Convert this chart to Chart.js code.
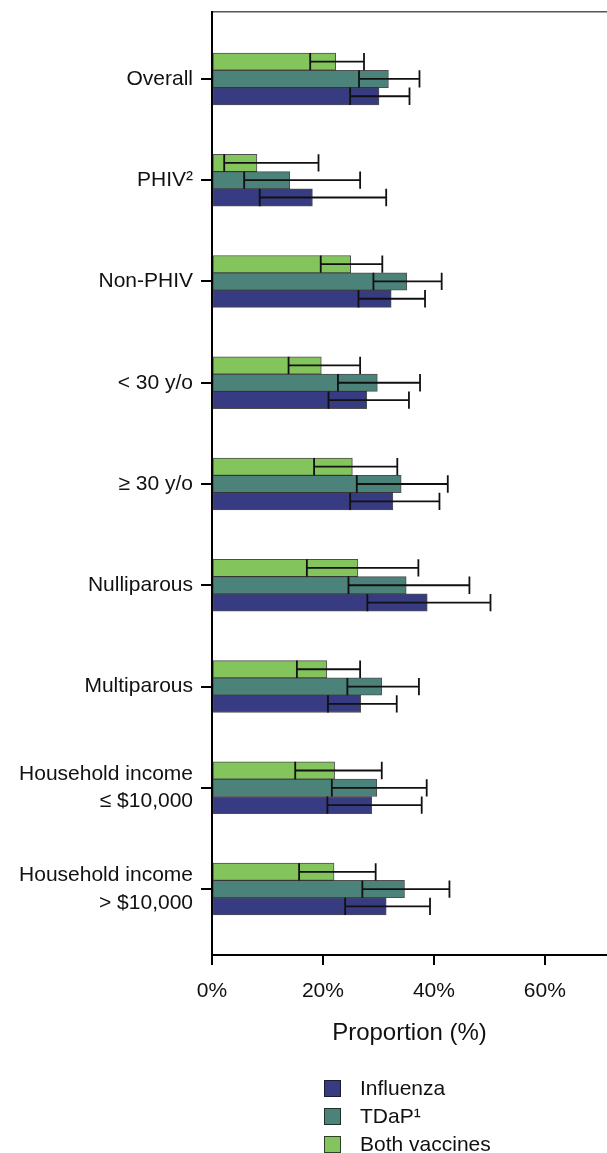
<!DOCTYPE html>
<html>
<head>
<meta charset="utf-8">
<script src="https://cdn.jsdelivr.net/npm/chart.js@4/dist/chart.umd.min.js"></script>
<style>
  html, body { margin: 0; padding: 0; background: #fff; }
  #wrap { position: relative; width: 607px; height: 1153px; font-family: 'Liberation Sans', Arial, sans-serif; }
  #chart { position: absolute; left: 0; top: 0; }
  .leg { position: absolute; left: 324px; height: 28px; display: flex; align-items: center; font-size: 21px; color: #111; }
  .leg span.box { width: 17px; height: 17px; box-sizing: border-box; border: 1px solid rgba(20,20,20,0.75); margin-right: 19px; }
</style>
</head>
<body>
<div id="wrap">
  <canvas id="chart" width="607" height="1153"></canvas>
  <div id="legend"></div>
</div>
<script>
// ===== data =====
const categories = [
    "Overall", "PHIV²", "Non-PHIV", "< 30 y/o", "≥ 30 y/o",
    "Nulliparous", "Multiparous",
    ["Household income", "≤ $10,000"],
    ["Household income", "> $10,000"]
];

const influenza   = [30.1, 18.1, 32.3, 27.9, 32.6, 38.8, 26.8, 28.8, 31.4];
const influenzaLo = [24.9,  8.6, 26.4, 21.0, 24.9, 28.0, 20.9, 20.8, 24.0];
const influenzaHi = [35.6, 31.4, 38.4, 35.5, 41.0, 50.2, 33.3, 37.8, 39.3];

const tdap   = [31.8, 14.0, 35.1, 29.8, 34.1, 35.0, 30.6, 29.7, 34.7];
const tdapLo = [26.5,  5.8, 29.1, 22.7, 26.1, 24.6, 24.4, 21.6, 27.1];
const tdapHi = [37.4, 26.7, 41.4, 37.5, 42.5, 46.4, 37.3, 38.7, 42.8];

const both   = [22.3,  8.1, 25.0, 19.7, 25.3, 26.3, 20.7, 22.1, 22.0];
const bothLo = [17.7,  2.2, 19.6, 13.8, 18.4, 17.1, 15.3, 15.0, 15.7];
const bothHi = [27.4, 19.2, 30.7, 26.7, 33.4, 37.2, 26.7, 30.6, 29.5];

const xTicks = [0, 20, 40, 60];

const mauXanh = "#363b82";
const mauTeal = "#4b8279";
const mauLa   = "#84c45c";
const fontChu = "'Liberation Sans', Arial, sans-serif";

// ===== error bars (CI) =====
const errorBarPlugin = {
    id: "errorBars",
    afterDatasetsDraw(chart) {
        const ctx = chart.ctx;
        const x = chart.scales.x;
        ctx.save();
        ctx.strokeStyle = "#111";
        ctx.lineWidth = 1.8;
        chart.data.datasets.forEach((ds, i) => {
            const meta = chart.getDatasetMeta(i);
            meta.data.forEach((bar, j) => {
                const x1 = x.getPixelForValue(ds.ciLo[j]);
                const x2 = x.getPixelForValue(ds.ciHi[j]);
                const h = bar.height / 2;
                ctx.beginPath();
                ctx.moveTo(x1, bar.y); ctx.lineTo(x2, bar.y);
                ctx.moveTo(x1, bar.y - h); ctx.lineTo(x1, bar.y + h);
                ctx.moveTo(x2, bar.y - h); ctx.lineTo(x2, bar.y + h);
                ctx.stroke();
            });
        });
        ctx.restore();
    }
};

function taoDataset(label, values, lo, hi, color) {
    return {
        label: label,
        data: values,
        ciLo: lo,
        ciHi: hi,
        backgroundColor: color,
        borderColor: "rgba(20,20,20,0.75)",
        borderWidth: 1,
        borderSkipped: false,
        barThickness: 17.3
    };
}

new Chart(document.getElementById("chart"), {
    type: "bar",
    data: {
        labels: categories,
        datasets: [
            taoDataset("Both vaccines", both, bothLo, bothHi, mauLa),
            taoDataset("TDaP¹", tdap, tdapLo, tdapHi, mauTeal),
            taoDataset("Influenza", influenza, influenzaLo, influenzaHi, mauXanh)
        ]
    },
    options: {
        indexAxis: "y",
        responsive: false,
        animation: false,
        layout: { padding: { top: 4, left: 0, right: 0, bottom: 101 } },
        plugins: {
            legend: { display: false },
            tooltip: { enabled: false }
        },
        scales: {
            x: {
                type: "linear",
                min: 0,
                max: 71.2,
                border: { display: true, color: "#000", width: 2 },
                grid: { display: true, drawOnChartArea: false, drawTicks: true, tickLength: 10, color: "#000", lineWidth: 2 },
                afterBuildTicks: scale => { scale.ticks = xTicks.map(v => ({ value: v })); },
                ticks: {
                    padding: 14,
                    color: "#111",
                    font: { family: fontChu, size: 21, lineHeight: 1.2 },
                    callback: v => v + "%"
                },
                title: {
                    display: true,
                    text: "Proportion (%)",
                    color: "#111",
                    font: { family: fontChu, size: 24, lineHeight: 1.2 },
                    padding: { top: 1, bottom: 4 }
                }
            },
            x2: {
                type: "linear",
                position: "top",
                min: 0,
                max: 1,
                border: { display: true, color: "#555", width: 1.5 },
                grid: { display: false },
                ticks: { display: false }
            },
            y: {
                type: "category",
                offset: true,
                afterBuildTicks: scale => {
                    // extra space above the first and below the last group
                    scale._startValue = -0.661;
                    scale._valueRange = 9.312;
                },
                afterFit: scale => {
                    scale.width = 212;
                    scale.paddingTop = 0;
                    scale.paddingBottom = 0;
                },
                border: { display: true, color: "#000", width: 2 },
                grid: { display: true, offset: false, drawOnChartArea: false, drawTicks: true, tickLength: 11, color: "#000", lineWidth: 2 },
                ticks: {
                    padding: 8,
                    color: "#111",
                    font: { family: fontChu, size: 21, lineHeight: 1.32 }
                }
            }
        }
    },
    plugins: [errorBarPlugin]
});

// ===== legend (Influenza, TDaP, Both) =====
const legendItems = [
    { text: "Influenza", color: mauXanh, top: 1074 },
    { text: "TDaP¹", color: mauTeal, top: 1102 },
    { text: "Both vaccines", color: mauLa, top: 1130 }
];
const legendEl = document.getElementById("legend");
legendItems.forEach(item => {
    const row = document.createElement("div");
    row.className = "leg";
    row.style.top = item.top + "px";
    const box = document.createElement("span");
    box.className = "box";
    box.style.background = item.color;
    const t = document.createElement("span");
    t.textContent = item.text;
    row.appendChild(box);
    row.appendChild(t);
    legendEl.appendChild(row);
});
</script>
</body>
</html>
